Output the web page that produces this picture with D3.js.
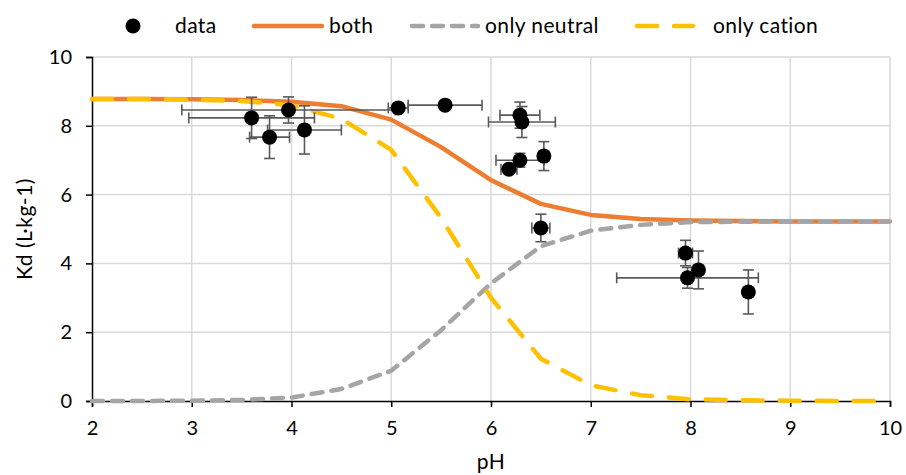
<!DOCTYPE html>
<html>
<head>
<meta charset="utf-8">
<script src="https://cdn.jsdelivr.net/npm/d3@7"></script>
<style>
  body { margin: 0; background: #fff; }
  svg { font-family: Lato, "Liberation Sans Narrow", sans-serif; }
</style>
</head>
<body>
<svg width="906" height="475"></svg>
<script>
// measured points
const dataPH = [3.60, 3.97, 3.78, 4.13, 5.07, 5.54, 6.29, 6.31, 6.29, 6.18, 6.53, 6.50, 7.95, 8.08, 7.97, 8.58];
const dataKd = [8.23, 8.46, 7.67, 7.88, 8.52, 8.60, 8.31, 8.11, 7.00, 6.74, 7.12, 5.03, 4.30, 3.81, 3.58, 3.17];
const errPH = [0.63, 1.07, 0.20, 0.37, 0.10, 0.37, 0.20, 0.335, 0.24, 0.08, 0.05, 0.09, 0.07, 0.05, 0.71, 0.05];
const errKd = [0.60, 0.38, 0.62, 0.70, 0.10, 0.10, 0.38, 0.45, 0.20, 0.10, 0.42, 0.40, 0.37, 0.55, 0.30, 0.64];

// model curves
const curvePH = [2, 2.5, 3, 3.5, 4, 4.5, 5, 5.5, 6, 6.5, 7, 7.5, 8, 8.5, 9, 9.5, 10];
const both = [8.78, 8.78, 8.77, 8.75, 8.70, 8.57, 8.18, 7.38, 6.42, 5.73, 5.41, 5.29, 5.25, 5.23, 5.22, 5.22, 5.22];
const onlyNeutral = [0, 0, 0.01, 0.03, 0.10, 0.35, 0.88, 2.06, 3.42, 4.50, 4.95, 5.12, 5.20, 5.21, 5.22, 5.22, 5.22];
const onlyCation = [8.78, 8.78, 8.76, 8.72, 8.60, 8.20, 7.30, 5.32, 3.00, 1.23, 0.46, 0.17, 0.05, 0.02, 0.01, 0, 0];

const xTicks = [2, 3, 4, 5, 6, 7, 8, 9, 10];
const yTicks = [0, 2, 4, 6, 8, 10];

const svg = d3.select('svg');
const x = d3.scaleLinear().domain([2, 10]).range([92, 890]);
const y = d3.scaleLinear().domain([0, 10]).range([401, 57]);

// grid
svg.append('g').selectAll('line').data(xTicks.slice(1)).join('line')
  .attr('x1', d => x(d)).attr('x2', d => x(d))
  .attr('y1', y(0)).attr('y2', y(10))
  .attr('stroke', '#d9d9d9').attr('stroke-width', 1.5);
svg.append('g').selectAll('line').data(yTicks.slice(1)).join('line')
  .attr('x1', x(2)).attr('x2', x(10))
  .attr('y1', d => y(d)).attr('y2', d => y(d))
  .attr('stroke', '#d9d9d9').attr('stroke-width', 1.5);

// axes
const xAxis = svg.append('g').attr('transform', `translate(0,${y(0)})`)
  .call(d3.axisBottom(x).tickValues(xTicks).tickSize(6).tickPadding(14));
const yAxis = svg.append('g').attr('transform', `translate(${x(2)},0)`)
  .call(d3.axisLeft(y).tickValues(yTicks).tickSize(6).tickPadding(14));
[xAxis, yAxis].forEach(a => {
  a.select('.domain').attr('stroke', '#000').attr('stroke-width', 1.5);
  a.selectAll('.tick line').attr('stroke', '#000').attr('stroke-width', 1.5);
  a.selectAll('.tick text').attr('font-size', 20).attr('fill', '#000')
    .attr('font-family', 'Lato, sans-serif');
});

// titles
svg.append('text').attr('x', 491).attr('y', 469).attr('text-anchor', 'middle')
  .attr('font-size', 21).attr('letter-spacing', 0.4).text('pH');
svg.append('text').attr('transform', 'translate(32,229) rotate(-90)')
  .attr('text-anchor', 'middle').attr('font-size', 21).attr('letter-spacing', 0.5)
  .text('Kd (L·kg-1)');

// curves
const line = d3.line().x((d, i) => x(curvePH[i])).y(d => y(d));
const series = [
  {name: 'both', vals: both, color: '#ED7D31', dash: null},
  {name: 'only neutral', vals: onlyNeutral, color: '#A5A5A5', dash: '11 9'},
  {name: 'only cation', vals: onlyCation, color: '#FFC000', dash: '20 17'}
];
series.forEach(s => {
  svg.append('path').attr('d', line(s.vals))
    .attr('fill', 'none').attr('stroke', s.color).attr('stroke-width', 4.5)
    .attr('stroke-linecap', s.dash ? 'round' : 'butt')
    .attr('stroke-linejoin', 'round')
    .attr('stroke-dasharray', s.dash);
});

// error bars
const pts = dataPH.map((p, i) => ({p, k: dataKd[i], ep: errPH[i], ek: errKd[i]}));
const eb = svg.append('g').attr('stroke', '#595959').attr('stroke-width', 1.6);
pts.forEach(d => {
  const cx = x(d.p), cy = y(d.k);
  const x0 = x(d.p - d.ep), x1 = x(d.p + d.ep);
  const y0 = y(d.k - d.ek), y1 = y(d.k + d.ek);
  eb.append('line').attr('x1', x0).attr('x2', x1).attr('y1', cy).attr('y2', cy);
  eb.append('line').attr('x1', x0).attr('x2', x0).attr('y1', cy - 5.5).attr('y2', cy + 5.5);
  eb.append('line').attr('x1', x1).attr('x2', x1).attr('y1', cy - 5.5).attr('y2', cy + 5.5);
  eb.append('line').attr('x1', cx).attr('x2', cx).attr('y1', y0).attr('y2', y1);
  eb.append('line').attr('x1', cx - 5.5).attr('x2', cx + 5.5).attr('y1', y0).attr('y2', y0);
  eb.append('line').attr('x1', cx - 5.5).attr('x2', cx + 5.5).attr('y1', y1).attr('y2', y1);
});

// markers
svg.append('g').selectAll('circle').data(pts).join('circle')
  .attr('cx', d => x(d.p)).attr('cy', d => y(d.k)).attr('r', 7.5)
  .attr('fill', '#000');

// legend
const lg = svg.append('g').attr('font-size', 21).attr('letter-spacing', 0.4);
lg.append('circle').attr('cx', 133).attr('cy', 26).attr('r', 7.5).attr('fill', '#000');
lg.append('text').attr('x', 175).attr('y', 33).text('data');
const legendItems = [
  {s: series[0], x1: 254, x2: 322, tx: 329},
  {s: series[1], x1: 412, x2: 478, tx: 485},
  {s: series[2], x1: 637, x2: 693, tx: 713}
];
legendItems.forEach(li => {
  lg.append('line').attr('x1', li.x1).attr('x2', li.x2).attr('y1', 26).attr('y2', 26)
    .attr('stroke', li.s.color).attr('stroke-width', 4.5)
    .attr('stroke-linecap', 'round')
    .attr('stroke-dasharray', li.s.dash);
  lg.append('text').attr('x', li.tx).attr('y', 33).text(li.s.name);
});
</script>
</body>
</html>
